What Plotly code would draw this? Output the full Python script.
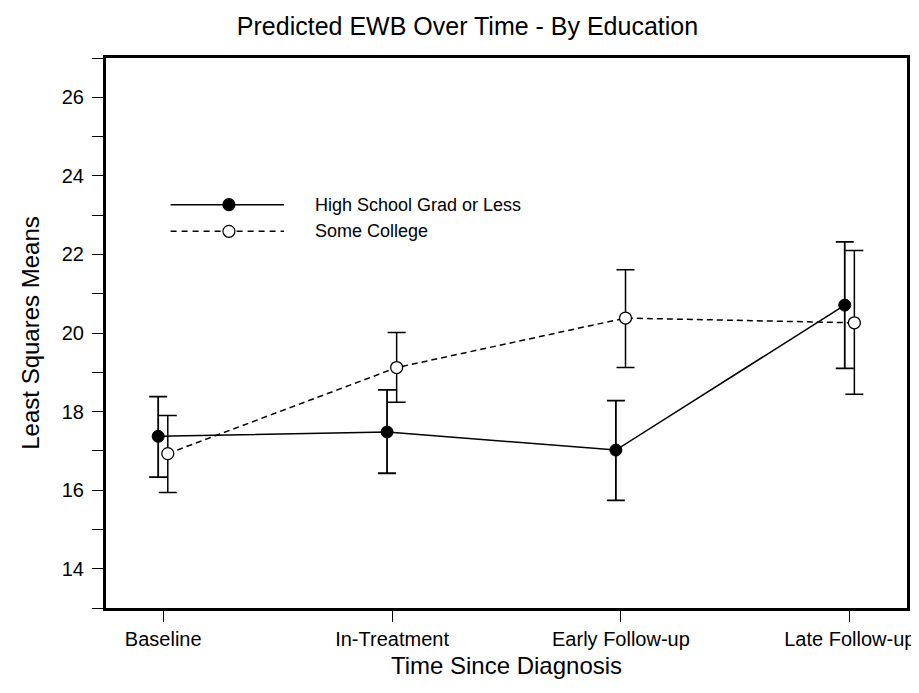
import plotly.graph_objects as go

# ---- data ----
timepoints = ["Baseline", "In-Treatment", "Early Follow-up", "Late Follow-up"]
hs_name = "High School Grad or Less"
hs_mean = [17.37, 17.48, 17.02, 20.71]
hs_lower = [16.33, 16.43, 15.74, 19.10]
hs_upper = [18.38, 18.55, 18.28, 22.32]
sc_name = "Some College"
sc_mean = [16.93, 19.12, 20.38, 20.26]
sc_lower = [15.94, 18.24, 19.12, 18.44]
sc_upper = [17.90, 20.01, 21.61, 22.10]
y_ticks = [14, 16, 18, 20, 22, 24, 26]

FONT = "Liberation Sans, Arial, sans-serif"
W, H = 919, 693
L, R, T, B = 98, 15, 50, 93

pos = list(range(len(timepoints)))
hs_x = [p - 0.022 for p in pos]
sc_x = [p + 0.02 for p in pos]

fig = go.Figure()
fig.add_trace(go.Scatter(
    x=hs_x, y=hs_mean, mode="lines+markers", name=hs_name,
    line=dict(color="black", width=1.5),
    marker=dict(symbol="circle", size=12, color="black", line=dict(color="black", width=1)),
    error_y=dict(type="data", symmetric=False,
                 array=[u - m for u, m in zip(hs_upper, hs_mean)],
                 arrayminus=[m - l for m, l in zip(hs_mean, hs_lower)],
                 color="black", thickness=1.8, width=9),
    showlegend=False,
))
fig.add_trace(go.Scatter(
    x=sc_x, y=sc_mean, mode="lines+markers", name=sc_name,
    line=dict(color="black", width=1.5, dash="6px,4px"),
    marker=dict(symbol="circle", size=12, color="white", line=dict(color="black", width=1.3)),
    error_y=dict(type="data", symmetric=False,
                 array=[u - m for u, m in zip(sc_upper, sc_mean)],
                 arrayminus=[m - l for m, l in zip(sc_mean, sc_lower)],
                 color="black", thickness=1.5, width=9),
    showlegend=False,
))

# ---- manual legend (line - marker - line samples) ----
pw, ph = W - L - R, H - T - B
def px(xp):
    return (xp - L) / pw
def py(yp):
    return (H - B - yp) / ph

legend_rows = [
    (hs_name, 196.7, None, "black"),
    (sc_name, 223.3, "6px,5px", "white"),
]
shapes = []
annotations = []
for name, yy, dash, fill in legend_rows:
    shapes.append(dict(type="line", xref="paper", yref="paper",
                       x0=px(163), x1=px(277), y0=py(yy), y1=py(yy),
                       line=dict(color="black", width=1.5, dash=dash or "solid")))
    shapes.append(dict(type="circle", xref="paper", yref="paper",
                       xsizemode="pixel", ysizemode="pixel",
                       xanchor=px(221.7), yanchor=py(yy),
                       x0=-6, x1=6, y0=-6, y1=6,
                       fillcolor=fill, line=dict(color="black", width=1.2)))
    annotations.append(dict(text=name, xref="paper", yref="paper",
                            x=px(306), y=py(yy), xanchor="left", yanchor="middle",
                            showarrow=False, font=dict(family=FONT, size=18, color="black")))

fig.update_layout(
    width=W, height=H,
    margin=dict(l=L, r=R, t=T, b=B, pad=0),
    paper_bgcolor="white", plot_bgcolor="white",
    font=dict(family=FONT, color="black"),
    title=dict(text="Predicted EWB Over Time - By Education",
               x=0.5, xref="container", xanchor="center",
               y=1 - 18 / H, yref="container", yanchor="middle",
               font=dict(family=FONT, size=25, color="black")),
    shapes=shapes,
    annotations=annotations,
    showlegend=False,
)
fig.update_xaxes(
    range=[-0.25, 3.25], tickmode="array", tickvals=pos, ticktext=timepoints,
    showgrid=False, zeroline=False,
    showline=True, linecolor="black", linewidth=3, mirror=True,
    ticks="outside", ticklen=11, tickwidth=1, tickcolor="black",
    tickfont=dict(family=FONT, size=20, color="black"),
    title=dict(text="Time Since Diagnosis", font=dict(family=FONT, size=24, color="black"), standoff=9),
)
fig.update_yaxes(
    range=[13, 27], tickmode="array", tickvals=y_ticks,
    showgrid=False, zeroline=False,
    showline=True, linecolor="black", linewidth=3, mirror=True,
    ticks="outside", ticklen=11, tickwidth=1, tickcolor="black",
    ticklabelstandoff=4,
    minor=dict(dtick=1, ticks="outside", ticklen=11, tickwidth=1, tickcolor="black", showgrid=False),
    tickfont=dict(family=FONT, size=20, color="black"),
    title=dict(text="Least Squares Means", font=dict(family=FONT, size=24, color="black"), standoff=16),
)

fig.write_html("out.html")
